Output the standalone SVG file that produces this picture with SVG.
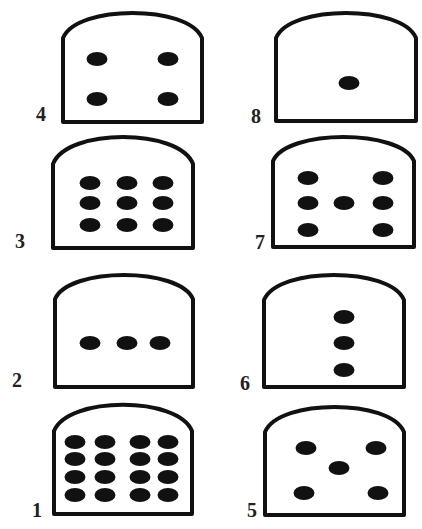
<svg xmlns="http://www.w3.org/2000/svg" width="422" height="529" viewBox="0 0 422 529">
<style>
.box{fill:#fff;stroke:#111;stroke-width:4;stroke-linejoin:round}
.dot{fill:#111}
.lbl{font-family:"Liberation Serif","DejaVu Serif",serif;font-weight:bold;font-size:20px;fill:#222}
</style>
<rect width="422" height="529" fill="#fff"/>
<g id="card4">
<path class="box" d="M63,122 V38 C77,4.5 188,4.5 202,38 V122 Z"/>
<ellipse class="dot" cx="97" cy="59" rx="10.5" ry="7"/>
<ellipse class="dot" cx="168" cy="59" rx="10.5" ry="7"/>
<ellipse class="dot" cx="97" cy="99" rx="10.5" ry="7"/>
<ellipse class="dot" cx="168" cy="99" rx="10.5" ry="7"/>
<text class="lbl" x="36" y="121">4</text>
</g>
<g id="card8">
<path class="box" d="M276,121 V38 C290,4.5 402,4.5 416,38 V121 Z"/>
<ellipse class="dot" cx="349" cy="83" rx="10.5" ry="7"/>
<text class="lbl" x="251" y="123">8</text>
</g>
<g id="card3">
<path class="box" d="M53,248 V164 C67,128 179,128 193,164 V248 Z"/>
<ellipse class="dot" cx="90" cy="183" rx="10.5" ry="7"/>
<ellipse class="dot" cx="127" cy="183" rx="10.5" ry="7"/>
<ellipse class="dot" cx="163" cy="183" rx="10.5" ry="7"/>
<ellipse class="dot" cx="90" cy="203" rx="10.5" ry="7"/>
<ellipse class="dot" cx="127" cy="203" rx="10.5" ry="7"/>
<ellipse class="dot" cx="163" cy="203" rx="10.5" ry="7"/>
<ellipse class="dot" cx="90" cy="225" rx="10.5" ry="7"/>
<ellipse class="dot" cx="127" cy="225" rx="10.5" ry="7"/>
<ellipse class="dot" cx="163" cy="225" rx="10.5" ry="7"/>
<text class="lbl" x="15" y="248">3</text>
</g>
<g id="card7">
<path class="box" d="M273,247 V161 C287,129 400,129 414,161 V247 Z"/>
<ellipse class="dot" cx="308" cy="178" rx="10.5" ry="7"/>
<ellipse class="dot" cx="383" cy="178" rx="10.5" ry="7"/>
<ellipse class="dot" cx="308" cy="203" rx="10.5" ry="7"/>
<ellipse class="dot" cx="344" cy="203" rx="10.5" ry="7"/>
<ellipse class="dot" cx="383" cy="203" rx="10.5" ry="7"/>
<ellipse class="dot" cx="308" cy="230" rx="10.5" ry="7"/>
<ellipse class="dot" cx="383" cy="230" rx="10.5" ry="7"/>
<text class="lbl" x="255" y="249">7</text>
</g>
<g id="card2">
<path class="box" d="M55,387 V299 C69,267 179,267 193,299 V387 Z"/>
<ellipse class="dot" cx="90" cy="343" rx="10.5" ry="7"/>
<ellipse class="dot" cx="127" cy="343" rx="10.5" ry="7"/>
<ellipse class="dot" cx="160" cy="343" rx="10.5" ry="7"/>
<text class="lbl" x="12" y="387">2</text>
</g>
<g id="card6">
<path class="box" d="M264,387 V300 C278,266.5 390,266.5 404,300 V387 Z"/>
<ellipse class="dot" cx="344" cy="317" rx="10.5" ry="7"/>
<ellipse class="dot" cx="344" cy="343" rx="10.5" ry="7"/>
<ellipse class="dot" cx="344" cy="370" rx="10.5" ry="7"/>
<text class="lbl" x="240" y="390">6</text>
</g>
<g id="card1">
<path class="box" d="M54,514 V431 C68,396 178,396 192,431 V514 Z"/>
<ellipse class="dot" cx="75" cy="442" rx="10.5" ry="7"/>
<ellipse class="dot" cx="105" cy="442" rx="10.5" ry="7"/>
<ellipse class="dot" cx="140" cy="442" rx="10.5" ry="7"/>
<ellipse class="dot" cx="168" cy="442" rx="10.5" ry="7"/>
<ellipse class="dot" cx="75" cy="459" rx="10.5" ry="7"/>
<ellipse class="dot" cx="105" cy="459" rx="10.5" ry="7"/>
<ellipse class="dot" cx="140" cy="459" rx="10.5" ry="7"/>
<ellipse class="dot" cx="168" cy="459" rx="10.5" ry="7"/>
<ellipse class="dot" cx="75" cy="477" rx="10.5" ry="7"/>
<ellipse class="dot" cx="105" cy="477" rx="10.5" ry="7"/>
<ellipse class="dot" cx="140" cy="477" rx="10.5" ry="7"/>
<ellipse class="dot" cx="168" cy="477" rx="10.5" ry="7"/>
<ellipse class="dot" cx="75" cy="495" rx="10.5" ry="7"/>
<ellipse class="dot" cx="105" cy="495" rx="10.5" ry="7"/>
<ellipse class="dot" cx="140" cy="495" rx="10.5" ry="7"/>
<ellipse class="dot" cx="168" cy="495" rx="10.5" ry="7"/>
<text class="lbl" x="32" y="517">1</text>
</g>
<g id="card5">
<path class="box" d="M265,515 V432 C279,398.5 390,398.5 404,432 V515 Z"/>
<ellipse class="dot" cx="306" cy="448" rx="10.5" ry="7"/>
<ellipse class="dot" cx="376" cy="448" rx="10.5" ry="7"/>
<ellipse class="dot" cx="339" cy="468" rx="10.5" ry="7"/>
<ellipse class="dot" cx="304" cy="493" rx="10.5" ry="7"/>
<ellipse class="dot" cx="378" cy="493" rx="10.5" ry="7"/>
<text class="lbl" x="247" y="517">5</text>
</g>
<g id="connectors"/>
</svg>
